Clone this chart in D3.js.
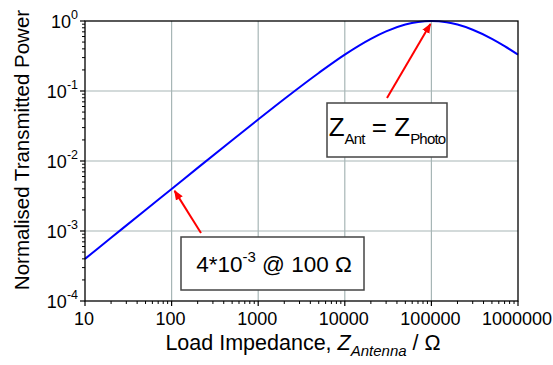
<!DOCTYPE html>
<html>
<head>
<meta charset="utf-8">
<script src="https://cdn.jsdelivr.net/npm/d3@7/dist/d3.min.js"></script>
<style>
  html, body { margin: 0; padding: 0; background: #fff; }
  svg { display: block; font-family: Arial, "Liberation Sans", sans-serif; }
</style>
</head>
<body>
<svg id="chart" width="553" height="365"></svg>
<script>
// Load impedance (ohm) and normalised transmitted power
const loadImpedance = [10, 20, 50, 100, 200, 500, 1000, 2000, 5000, 10000, 20000, 30000, 50000, 70000, 100000, 150000, 200000, 300000, 500000, 700000, 1000000];
const transmittedPower = [0.0004, 0.0008, 0.002, 0.00399, 0.00797, 0.0198, 0.0392, 0.0769, 0.181, 0.331, 0.556, 0.710, 0.889, 0.969, 1.0, 0.96, 0.889, 0.75, 0.556, 0.4375, 0.331];

const xTickValues = [10, 100, 1000, 10000, 100000, 1000000];
const xTickLabels = ["10", "100", "1000", "10000", "100000", "1000000"];
const yTickValues = [1e-4, 1e-3, 1e-2, 1e-1, 1];
const yTickExponents = ["-4", "-3", "-2", "-1", "0"];

const yTitle = "Normalised Transmitted Power";
const noteLow = { x: 100, y: 0.004, text: "4*10", sup: "-3", rest: " @ 100 \u03A9" };
const notePeak = { x: 100000, y: 1.0 };

const svg = d3.select("#chart");
const m = { left: 85, right: 518, top: 21, bottom: 301 };

const x = d3.scaleLog().domain([10, 1e6]).range([m.left, m.right]);
const y = d3.scaleLog().domain([1e-4, 1]).range([m.bottom, m.top]);

const minorX = [];
for (let d = 10; d < 1e6; d *= 10) for (let k = 2; k <= 9; k++) minorX.push(d * k);
const minorY = [];
for (let d = 1e-4; d < 0.99; d *= 10) for (let k = 2; k <= 9; k++) minorY.push(d * k);

// grid
const gridColor = "#a7b6b6";
svg.append("g").selectAll("line").data(xTickValues.slice(1, -1)).join("line")
  .attr("x1", d => x(d)).attr("x2", d => x(d))
  .attr("y1", m.top).attr("y2", m.bottom)
  .attr("stroke", gridColor).attr("stroke-width", 1.2);
svg.append("g").selectAll("line").data(yTickValues.slice(1, -1)).join("line")
  .attr("y1", d => y(d)).attr("y2", d => y(d))
  .attr("x1", m.left).attr("x2", m.right)
  .attr("stroke", gridColor).attr("stroke-width", 1.2);

// curve
const line = d3.line()
  .x((d, i) => x(loadImpedance[i]))
  .y((d, i) => y(transmittedPower[i]))
  .curve(d3.curveMonotoneX);
svg.append("path").datum(transmittedPower)
  .attr("d", line)
  .attr("fill", "none").attr("stroke", "#0000ff").attr("stroke-width", 2);

// frame
svg.append("rect")
  .attr("x", m.left).attr("y", m.top)
  .attr("width", m.right - m.left).attr("height", m.bottom - m.top)
  .attr("fill", "none").attr("stroke", "#000").attr("stroke-width", 1.3);

// axes ticks
const gx = svg.append("g");
gx.selectAll(".maj").data(xTickValues).join("line")
  .attr("x1", d => x(d)).attr("x2", d => x(d))
  .attr("y1", m.bottom).attr("y2", m.bottom + 5)
  .attr("stroke", "#000").attr("stroke-width", 1.2);
gx.selectAll(".min").data(minorX).join("line")
  .attr("x1", d => x(d)).attr("x2", d => x(d))
  .attr("y1", m.bottom).attr("y2", m.bottom + 3)
  .attr("stroke", "#000").attr("stroke-width", 1);
gx.selectAll("text").data(xTickValues).join("text")
  .attr("x", d => x(d) - 1).attr("y", m.bottom + 24)
  .attr("text-anchor", "middle").attr("font-size", 18)
  .text((d, i) => xTickLabels[i]);

const gy = svg.append("g");
gy.selectAll(".maj").data(yTickValues).join("line")
  .attr("y1", d => y(d)).attr("y2", d => y(d))
  .attr("x1", m.left - 5).attr("x2", m.left)
  .attr("stroke", "#000").attr("stroke-width", 1.2);
gy.selectAll(".min").data(minorY).join("line")
  .attr("y1", d => y(d)).attr("y2", d => y(d))
  .attr("x1", m.left - 3).attr("x2", m.left)
  .attr("stroke", "#000").attr("stroke-width", 1);
const yl = gy.selectAll("text").data(yTickValues).join("text")
  .attr("x", 78).attr("y", d => y(d) + 7)
  .attr("text-anchor", "end").attr("font-size", 18);
yl.append("tspan").text("10");
yl.append("tspan").attr("dy", -9).attr("font-size", 12.5).text((d, i) => yTickExponents[i]);

// axis titles
svg.append("text")
  .attr("transform", "translate(29,150) rotate(-90)")
  .attr("text-anchor", "middle").attr("font-size", 20.5)
  .text(yTitle);

const xt = svg.append("text")
  .attr("x", 303).attr("y", 350)
  .attr("text-anchor", "middle").attr("font-size", 21.5);
xt.append("tspan").text("Load Impedance, ");
xt.append("tspan").attr("font-style", "italic").text("Z");
xt.append("tspan").attr("font-style", "italic").attr("font-size", 15).attr("dy", 6).text("Antenna");
xt.append("tspan").attr("dy", -6).text(" / \u03A9");

// arrows
const defs = svg.append("defs");
defs.append("marker").attr("id", "ah")
  .attr("viewBox", "0 0 10 10").attr("refX", 9).attr("refY", 5)
  .attr("markerWidth", 5).attr("markerHeight", 5).attr("orient", "auto")
  .attr("markerUnits", "strokeWidth")
  .append("path").attr("d", "M0,1 L10,5 L0,9 Z").attr("fill", "#ff0000");

svg.append("line")
  .attr("x1", 201).attr("y1", 233)
  .attr("x2", x(noteLow.x) + 3).attr("y2", y(noteLow.y) + 2)
  .attr("stroke", "#ff0000").attr("stroke-width", 2).attr("marker-end", "url(#ah)");
svg.append("line")
  .attr("x1", 387).attr("y1", 98)
  .attr("x2", x(notePeak.x) - 1).attr("y2", y(notePeak.y) + 3)
  .attr("stroke", "#ff0000").attr("stroke-width", 2).attr("marker-end", "url(#ah)");

// annotation boxes
svg.append("rect").attr("x", 181).attr("y", 237).attr("width", 183).attr("height", 53)
  .attr("fill", "#fff").attr("stroke", "#444").attr("stroke-width", 1.5);
const t1 = svg.append("text").attr("x", 274).attr("y", 272)
  .attr("text-anchor", "middle").attr("font-size", 22.5);
t1.append("tspan").text(noteLow.text);
t1.append("tspan").attr("dy", -10).attr("font-size", 15).text(noteLow.sup);
t1.append("tspan").attr("dy", 10).text(noteLow.rest);

svg.append("rect").attr("x", 327).attr("y", 103).attr("width", 120).attr("height", 54)
  .attr("fill", "#fff").attr("stroke", "#444").attr("stroke-width", 1.5);
const t2 = svg.append("text").attr("x", 387).attr("y", 136)
  .attr("text-anchor", "middle").attr("font-size", 26);
t2.append("tspan").text("Z");
t2.append("tspan").attr("dy", 8).attr("font-size", 15).attr("letter-spacing", -0.8).text("Ant");
t2.append("tspan").attr("dy", -8).text(" = Z");
t2.append("tspan").attr("dy", 8).attr("font-size", 15).attr("letter-spacing", -0.8).text("Photo");
</script>
</body>
</html>
